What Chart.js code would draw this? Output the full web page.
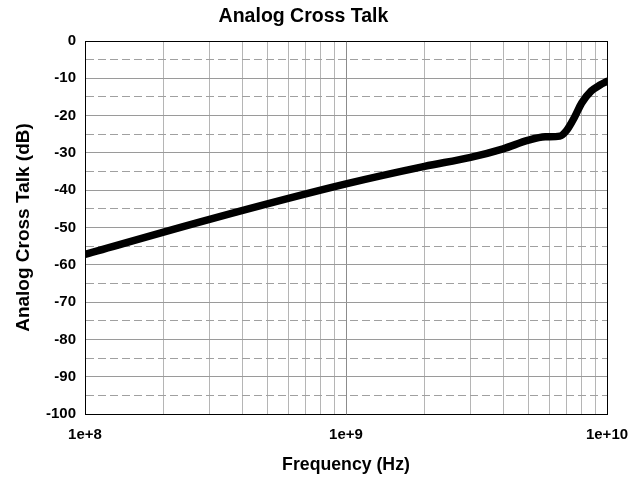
<!DOCTYPE html>
<html>
<head>
<meta charset="utf-8">
<script src="https://cdn.jsdelivr.net/npm/chart.js@4/dist/chart.umd.min.js"></script>
<style>
  html, body { margin: 0; padding: 0; background: #fff; }
  #wrap { width: 643px; height: 479px; }
</style>
</head>
<body>
<div id="wrap"><canvas id="c" width="643" height="479"></canvas></div>
<script>
const frequencyHz = [1e8, 3e8, 1e9, 2e9, 3e9, 4e9, 5e9, 5.8e9, 6.6e9, 7.0e9, 7.5e9, 8.0e9, 8.7e9, 9.4e9, 1e10];
const crossTalkDb = [-57.2, -47.8, -38.3, -33.6, -31.2, -28.9, -26.6, -25.7, -25.5, -24.0, -20.5, -16.6, -13.4, -11.8, -10.8];
const xTickValues = [1e8,2e8,3e8,4e8,5e8,6e8,7e8,8e8,9e8,1e9,2e9,3e9,4e9,5e9,6e9,7e9,8e9,9e9,1e10];
const xTickLabels = {"100000000": "1e+8", "1000000000": "1e+9", "10000000000": "1e+10"};
const yMin = -100, yMax = 0, yStep = 5;

const FONT = "'Liberation Sans', Arial, Helvetica, sans-serif";
const points = frequencyHz.map((f, i) => ({ x: f, y: crossTalkDb[i] }));
const isDecade = v => Math.abs(Math.log10(v) - Math.round(Math.log10(v))) < 1e-9;

new Chart(document.getElementById('c'), {
  type: 'line',
  data: {
    datasets: [{
      data: points,
      borderColor: '#000',
      borderWidth: 7.5,
      pointRadius: 0,
      cubicInterpolationMode: 'monotone',
      borderCapStyle: 'round',
      borderJoinStyle: 'round',
      fill: false
    }]
  },
  options: {
    responsive: false,
    animation: false,
    layout: { padding: { left: 0, right: 36, top: 0, bottom: 0 } },
    plugins: {
      legend: { display: false },
      tooltip: { enabled: false },
      title: {
        display: true,
        text: 'Analog Cross Talk',
        color: '#000',
        font: { family: FONT, size: 19.5, weight: 'bold', lineHeight: 1.2 },
        padding: { top: 5, bottom: 12.6 }
      }
    },
    scales: {
      x: {
        type: 'logarithmic',
        min: 1e8,
        max: 1e10,
        afterBuildTicks: s => { s.ticks = xTickValues.map(v => ({ value: v, major: isDecade(v) })); },
        afterFit: s => { s.height = 65; },
        ticks: {
          autoSkip: false,
          maxRotation: 0,
          padding: 12,
          color: '#000',
          font: { family: FONT, size: 15, weight: 'bold' },
          callback: v => xTickLabels[String(Math.round(v))] || ''
        },
        grid: {
          drawTicks: false,
          lineWidth: 1,
          color: ctx => {
            const v = ctx.tick ? ctx.tick.value : 0;
            if (Math.abs(v - 1e10) < 1) return '#000';
            if (isDecade(v)) return '#8c8c8c';
            return '#b5b5b5';
          }
        },
        border: { display: true, color: '#000', width: 1 },
        title: {
          display: true,
          text: 'Frequency (Hz)',
          color: '#000',
          font: { family: FONT, size: 17.7, weight: 'bold', lineHeight: 1.2 },
          padding: { top: 0, bottom: 3.5 }
        }
      },
      y: {
        type: 'linear',
        min: yMin,
        max: yMax,
        afterFit: s => { s.width = 85; },
        ticks: {
          stepSize: yStep,
          autoSkip: false,
          padding: 9,
          color: '#000',
          font: { family: FONT, size: 15, weight: 'bold' },
          callback: v => (v % 10 === 0 ? String(v) : '')
        },
        grid: {
          drawTicks: false,
          lineWidth: 1,
          color: ctx => {
            const v = ctx.tick ? ctx.tick.value : 0;
            if (v === 0) return '#000';
            if (v % 10 === 0) return '#9a9a9a';
            return '#a0a0a0';
          }
        },
        border: {
          display: true,
          color: '#000',
          width: 1,
          dash: ctx => (ctx.tick && ctx.tick.value % 10 !== 0 ? [8, 4] : [])
        },
        title: {
          display: true,
          text: 'Analog Cross Talk (dB)',
          color: '#000',
          font: { family: FONT, size: 19, weight: 'bold', lineHeight: 1.2 },
          padding: { top: 12.5, bottom: 0 }
        }
      }
    }
  }
});
</script>
</body>
</html>
